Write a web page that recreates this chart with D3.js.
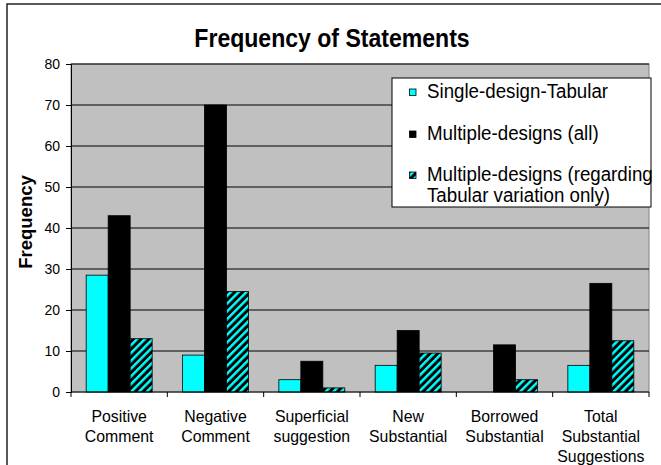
<!DOCTYPE html>
<html>
<head>
<meta charset="utf-8">
<script src="https://cdn.jsdelivr.net/npm/d3@7"></script>
<style>
  body { margin: 0; background: #fff; }
  text { font-family: "Liberation Sans", Arial, sans-serif; }
</style>
</head>
<body>
<div id="chart"></div>
<script>
const categories = [
  ["Positive", "Comment"],
  ["Negative", "Comment"],
  ["Superficial", "suggestion"],
  ["New", "Substantial"],
  ["Borrowed", "Substantial"],
  ["Total", "Substantial", "Suggestions"]
];
const seriesNames = [
  ["Single-design-Tabular"],
  ["Multiple-designs (all)"],
  ["Multiple-designs (regarding", "Tabular variation only)"]
];
const singleTabular = [28.5, 9, 3, 6.5, 0, 6.5];
const multipleAll = [43, 70, 7.5, 15, 11.5, 26.5];
const multipleTabular = [13, 24.5, 1, 9.5, 3, 12.5];
const yTicks = [0, 10, 20, 30, 40, 50, 60, 70, 80];

const width = 661, height = 465;
const plot = { left: 71, right: 649, top: 64, bottom: 392 };

const svg = d3.select("#chart").append("svg")
  .attr("width", width).attr("height", height);

// hatch pattern for the third series
svg.append("defs").append("pattern")
  .attr("id", "hatch")
  .attr("patternUnits", "userSpaceOnUse")
  .attr("width", 5.5).attr("height", 5.5)
  .attr("patternTransform", "rotate(45)")
  .call(p => {
    p.append("rect").attr("width", 5.5).attr("height", 5.5).attr("fill", "#000");
    p.append("rect").attr("width", 2.5).attr("height", 5.5).attr("fill", "#00FFFF");
  });

const fills = ["#00FFFF", "#000000", "url(#hatch)"];
const series = [singleTabular, multipleAll, multipleTabular];

// text helper: slightly narrowed glyphs like the original
function label(g, x, y, str, size, opts = {}) {
  return g.append("text")
    .attr("transform", `translate(${x},${y}) scale(${opts.sx || 1},1)`)
    .attr("text-anchor", opts.anchor || "start")
    .attr("font-size", size)
    .attr("font-weight", opts.bold ? "bold" : "normal")
    .attr("fill", "#000")
    .text(str);
}

// outer chart frame
svg.append("rect")
  .attr("x", 7).attr("y", 4).attr("width", 720).attr("height", 520)
  .attr("fill", "#fff").attr("stroke", "#222").attr("stroke-width", 1.5);

const y = d3.scaleLinear().domain([0, 80]).range([plot.bottom, plot.top]);
const x = d3.scaleBand().domain(d3.range(categories.length))
  .range([plot.left, plot.right]).paddingInner(0).paddingOuter(0);
const xSub = d3.scaleBand().domain(d3.range(series.length))
  .range([0, x.bandwidth()]).paddingInner(0).paddingOuter(0.69);

// plot area
svg.append("rect")
  .attr("x", plot.left).attr("y", plot.top)
  .attr("width", plot.right - plot.left).attr("height", plot.bottom - plot.top)
  .attr("fill", "#C0C0C0").attr("stroke", "#808080");

// gridlines
svg.append("g").selectAll("line")
  .data(yTicks.filter(t => t > 0))
  .join("line")
  .attr("x1", plot.left).attr("x2", plot.right)
  .attr("y1", d => y(d)).attr("y2", d => y(d))
  .attr("stroke", "#000").attr("stroke-width", 1);

// bars
series.forEach((vals, si) => {
  svg.append("g").selectAll("rect")
    .data(vals)
    .join("rect")
    .attr("x", (d, i) => x(i) + xSub(si))
    .attr("y", d => y(d))
    .attr("width", xSub.bandwidth())
    .attr("height", d => y(0) - y(d))
    .attr("fill", fills[si])
    .attr("stroke", d => d > 0 ? "#000" : "none")
    .attr("stroke-width", 0.8);
});

// y axis
const yAxis = svg.append("g")
  .attr("transform", `translate(${plot.left},0)`)
  .call(d3.axisLeft(y).tickValues(yTicks).tickSize(5).tickPadding(6));
yAxis.select(".domain").attr("stroke", "#000");
yAxis.selectAll(".tick line").attr("stroke", "#000");
yAxis.selectAll(".tick text")
  .attr("font-size", 14)
  .attr("font-family", "'Liberation Sans', Arial, sans-serif")
  .attr("fill", "#000");

// x axis: baseline with ticks at category boundaries
const xAxis = svg.append("g");
xAxis.append("line")
  .attr("x1", plot.left).attr("x2", plot.right)
  .attr("y1", y(0)).attr("y2", y(0))
  .attr("stroke", "#000");
xAxis.selectAll("line.tk")
  .data(d3.range(categories.length + 1))
  .join("line").attr("class", "tk")
  .attr("x1", i => i < categories.length ? x(i) : plot.right)
  .attr("x2", i => i < categories.length ? x(i) : plot.right)
  .attr("y1", y(0)).attr("y2", y(0) + 5)
  .attr("stroke", "#000");

categories.forEach((lines, i) => {
  const cx = x(i) + x.bandwidth() / 2;
  lines.forEach((ln, j) => {
    label(svg, cx, 421.5 + j * 20, ln, 16.5, { anchor: "middle", sx: 0.96 });
  });
});

// y axis title
svg.append("text")
  .attr("transform", `translate(31.5,222) rotate(-90)`)
  .attr("text-anchor", "middle")
  .attr("font-size", 18.5)
  .attr("font-weight", "bold")
  .text("Frequency");

// chart title
label(svg, 332, 46.5, "Frequency of Statements", 26.5, { anchor: "middle", bold: true, sx: 0.87 });

// legend
const legend = svg.append("g");
legend.append("rect")
  .attr("x", 392).attr("y", 78).attr("width", 259).attr("height", 129)
  .attr("fill", "#fff").attr("stroke", "#000");
const legendBase = [97.5, 139.5, 180.5];
seriesNames.forEach((lines, si) => {
  legend.append("rect")
    .attr("x", 409.5).attr("y", legendBase[si] - 8.5)
    .attr("width", 6.5).attr("height", 6.5)
    .attr("fill", fills[si]).attr("stroke", "#000").attr("stroke-width", 0.8);
  lines.forEach((ln, j) => {
    label(legend, 427, legendBase[si] + j * 21, ln, 19.5, { sx: 0.96 });
  });
});
</script>
</body>
</html>
